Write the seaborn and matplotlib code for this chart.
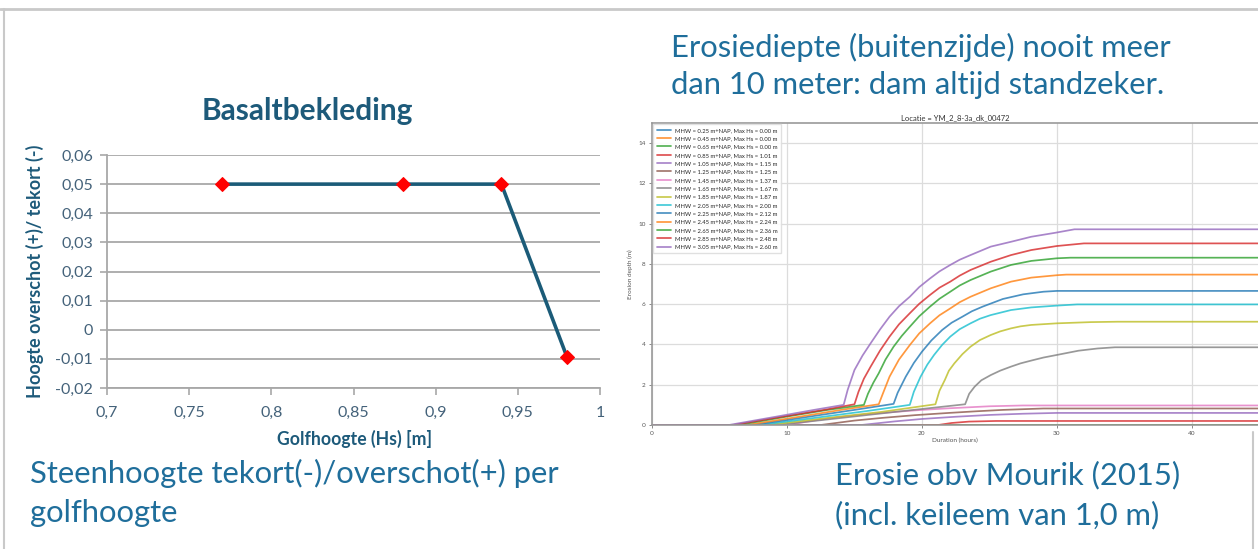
import matplotlib
matplotlib.use("Agg")
import matplotlib.pyplot as plt
from matplotlib.lines import Line2D
import seaborn as sns
import pandas as pd

# ---------------- Basalt revetment: stone height deficit / surplus ----------------
wave_height = [0.77, 0.88, 0.94, 0.98]
height_margin = [0.05, 0.05, 0.05, -0.0095]
x_ticks = [0.70, 0.75, 0.80, 0.85, 0.90, 0.95, 1.00]
x_tick_labels = ["0,7", "0,75", "0,8", "0,85", "0,9", "0,95", "1"]
y_ticks = [-0.02, -0.01, 0.00, 0.01, 0.02, 0.03, 0.04, 0.05, 0.06]
y_tick_labels = ["-0,02", "-0,01", "0", "0,01", "0,02", "0,03", "0,04", "0,05", "0,06"]

# ---------------- Erosion depth vs storm duration (Mourik 2015) ----------------
mhw_levels = [0.25, 0.45, 0.65, 0.85, 1.05, 1.25, 1.45, 1.65, 1.85, 2.05, 2.25, 2.45, 2.65, 2.85, 3.05]
max_hs = [0.00, 0.00, 0.00, 1.01, 1.15, 1.25, 1.37, 1.67, 1.87, 2.00, 2.12, 2.24, 2.36, 2.48, 2.60]

hours_025 = [0, 48]
depth_025 = [0, 0]
hours_045 = [0, 48]
depth_045 = [0, 0]
hours_065 = [0, 48]
depth_065 = [0, 0]
hours_085 = [0, 21.2, 22.2, 23.5, 25.5, 48]
depth_085 = [0, 0, 0.10, 0.17, 0.20, 0.20]
hours_105 = [0, 15.5, 18.0, 20.0, 22.5, 25.0, 27.5, 30.0, 48]
depth_105 = [0, 0, 0.18, 0.30, 0.41, 0.50, 0.56, 0.60, 0.60]
hours_125 = [0, 12.5, 15.0, 17.0, 19.5, 22.0, 24.0, 26.0, 29.0, 48]
depth_125 = [0, 0, 0.22, 0.35, 0.49, 0.60, 0.68, 0.75, 0.82, 0.82]
hours_145 = [0, 10.0, 12.0, 14.0, 16.0, 18.0, 20.0, 22.0, 25.0, 27.5, 48]
depth_145 = [0, 0, 0.22, 0.40, 0.54, 0.65, 0.75, 0.83, 0.93, 0.97, 0.97]
hours_165 = [0, 9.3, 14.0, 18.0, 23.2, 23.5, 23.9, 24.4, 25.1, 25.8, 26.6, 27.3, 28.1, 29.0, 30.0, 31.6, 33.0, 34.3, 48]
depth_165 = [0, 0, 0.35, 0.65, 1.03, 1.55, 1.90, 2.22, 2.48, 2.70, 2.90, 3.06, 3.20, 3.35, 3.48, 3.69, 3.80, 3.86, 3.86]
hours_185 = [0, 8.6, 13.0, 17.0, 21.0, 21.3, 21.7, 22.0, 22.4, 23.0, 23.6, 24.3, 25.1, 25.8, 26.6, 27.3, 28.1, 30.0, 32.5, 34.5, 48]
depth_185 = [0, 0, 0.35, 0.65, 1.03, 1.70, 2.24, 2.70, 3.06, 3.52, 3.89, 4.22, 4.47, 4.65, 4.80, 4.90, 4.97, 5.05, 5.11, 5.13, 5.13]
hours_205 = [0, 8.0, 12.0, 16.0, 19.1, 19.4, 19.9, 20.4, 20.9, 21.5, 22.1, 22.8, 23.6, 24.3, 25.1, 26.6, 28.1, 30.0, 31.5, 48]
depth_205 = [0, 0, 0.35, 0.70, 1.00, 1.65, 2.40, 3.00, 3.48, 3.98, 4.39, 4.76, 5.05, 5.28, 5.46, 5.71, 5.84, 5.93, 5.99, 5.99]
hours_225 = [0, 7.5, 11.5, 15.0, 17.9, 18.2, 18.8, 19.4, 20.0, 20.7, 21.5, 22.2, 23.0, 23.7, 24.5, 26.0, 27.5, 29.0, 30.0, 48]
depth_225 = [0, 0, 0.40, 0.75, 1.05, 1.60, 2.40, 3.08, 3.64, 4.20, 4.72, 5.08, 5.38, 5.65, 5.88, 6.26, 6.49, 6.62, 6.66, 6.66]
hours_245 = [0, 7.0, 11.0, 14.0, 16.8, 17.1, 17.6, 18.3, 19.1, 19.8, 20.6, 21.3, 22.1, 22.8, 23.6, 25.1, 26.6, 28.1, 30.0, 30.7, 48]
depth_245 = [0, 0, 0.42, 0.75, 1.03, 1.55, 2.40, 3.25, 3.97, 4.55, 5.05, 5.45, 5.79, 6.10, 6.37, 6.79, 7.12, 7.32, 7.44, 7.47, 7.47]
hours_265 = [0, 6.4, 10.0, 13.0, 15.7, 16.0, 16.4, 16.8, 17.3, 17.9, 18.5, 19.1, 19.8, 20.6, 21.3, 22.1, 22.8, 23.6, 25.1, 26.6, 28.1, 30.0, 31.0, 48]
depth_265 = [0, 0, 0.42, 0.75, 1.00, 1.55, 2.10, 2.57, 3.25, 3.89, 4.42, 4.88, 5.40, 5.88, 6.27, 6.62, 6.93, 7.20, 7.62, 7.95, 8.15, 8.28, 8.31, 8.31]
hours_285 = [0, 6.0, 10.0, 13.0, 15.0, 15.3, 15.7, 16.2, 16.9, 17.6, 18.3, 19.1, 19.8, 20.6, 21.3, 22.1, 22.8, 23.6, 25.1, 26.6, 28.1, 30.0, 32.0, 48]
depth_285 = [0, 0, 0.45, 0.78, 1.03, 1.65, 2.30, 2.90, 3.70, 4.39, 5.00, 5.55, 6.02, 6.46, 6.82, 7.12, 7.42, 7.70, 8.11, 8.44, 8.69, 8.89, 9.02, 9.02]
hours_305 = [0, 5.7, 9.5, 12.0, 14.2, 14.5, 15.0, 15.6, 16.2, 16.9, 17.6, 18.3, 19.1, 19.8, 20.6, 21.3, 22.1, 22.8, 23.6, 25.1, 26.6, 28.1, 29.9, 31.3, 48]
depth_305 = [0, 0, 0.45, 0.75, 1.00, 1.75, 2.73, 3.45, 4.06, 4.75, 5.38, 5.90, 6.37, 6.85, 7.28, 7.63, 7.95, 8.21, 8.44, 8.86, 9.10, 9.35, 9.55, 9.72, 9.72]

hours_all = [hours_025, hours_045, hours_065, hours_085, hours_105, hours_125, hours_145, hours_165,
             hours_185, hours_205, hours_225, hours_245, hours_265, hours_285, hours_305]
depth_all = [depth_025, depth_045, depth_065, depth_085, depth_105, depth_125, depth_145, depth_165,
             depth_185, depth_205, depth_225, depth_245, depth_265, depth_285, depth_305]

sns.set_theme(style="white")
plt.rcParams["font.family"] = ["Lato", "DejaVu Sans"]

W, H = 1258, 549
fig = plt.figure(figsize=(W / 100, H / 100), dpi=100)
fig.patch.set_facecolor("white")

def fx(px):
    return px / W

def fy(py):
    return 1 - py / H

# slide frame
border = "#c9c9c9"
fig.add_artist(Line2D([0, 1], [fy(9), fy(9)], color=border, lw=2, transform=fig.transFigure))
fig.add_artist(Line2D([fx(4), fx(4)], [fy(9), 0], color=border, lw=1.5, transform=fig.transFigure))
fig.add_artist(Line2D([fx(1253), fx(1253)], [fy(432), 0], color=border, lw=1.5, transform=fig.transFigure))

# ---------------- left chart ----------------
dark_blue = "#1d5a7a"
tick_col = "#44627a"
grid_col = "#a8a8a8"
axL = fig.add_axes([fx(107), fy(388), fx(600) - fx(107), fy(155) - fy(388)])
axL.set_facecolor("white")
sns.lineplot(x=wave_height, y=height_margin, ax=axL, color="#1b5b78", lw=2.6,
             marker="D", markersize=7.5, markerfacecolor="#ff0000", markeredgecolor="#ff0000",
             zorder=3)
axL.set_xlim(0.70, 1.00)
axL.set_ylim(-0.02, 0.06)
axL.set_xticks(x_ticks)
axL.set_xticklabels(x_tick_labels)
axL.set_yticks(y_ticks)
axL.set_yticklabels(y_tick_labels)
axL.yaxis.grid(True, color=grid_col, lw=1.3)
axL.xaxis.grid(False)
for s in ["top", "right"]:
    axL.spines[s].set_visible(False)
for s in ["left", "bottom"]:
    axL.spines[s].set_color(grid_col)
    axL.spines[s].set_linewidth(1.3)
axL.tick_params(axis="both", which="major", length=5, width=1.2, color=grid_col,
                labelsize=11.5, labelcolor=tick_col, direction="out", pad=5)
axL.tick_params(axis="x", bottom=True, pad=8)
axL.tick_params(axis="y", left=True)
axL.set_ylabel("Hoogte overschot (+)/ tekort (-)", fontsize=13, fontweight="bold", color=dark_blue)
axL.yaxis.set_label_coords(-0.128, 0.5)
axL.set_xlabel("Golfhoogte (Hs) [m]", fontsize=12.7, fontweight="bold", color=dark_blue)
axL.xaxis.set_label_coords(0.503, -0.18)

fig.text(fx(307), fy(111), "Basaltbekleding", ha="center", va="center",
         fontsize=21.5, fontweight="bold", color=dark_blue)

# ---------------- right chart ----------------
frames = []
for lvl, hs, t, d in zip(mhw_levels, max_hs, hours_all, depth_all):
    label = f"MHW = {lvl:.2f} m+NAP, Max Hs = {hs:.2f} m"
    frames.append(pd.DataFrame({"series": label, "hours": t, "depth": d}))
erosion = pd.concat(frames, ignore_index=True)
order = list(dict.fromkeys(erosion["series"]))
palette = [sns.color_palette("tab10")[i % 10] for i in range(len(order))]

axR = fig.add_axes([fx(652), fy(425), 1 - fx(652), fy(123) - fy(425)])
axR.set_facecolor("white")
sns.lineplot(data=erosion, x="hours", y="depth", hue="series", hue_order=order,
             palette=palette, estimator=None, sort=False, lw=1.25, alpha=0.8, ax=axR)
axR.set_xlim(0, 44.9)
axR.set_ylim(0, 15)
axR.set_xticks([0, 10, 20, 30, 40])
axR.set_yticks([0, 2, 4, 6, 8, 10, 12, 14])
axR.grid(True, color="#dcdcdc", lw=0.9)
for s in ["left", "top", "bottom"]:
    axR.spines[s].set_color("#9a9a9a")
    axR.spines[s].set_linewidth(1.2)
axR.spines["right"].set_visible(False)
axR.tick_params(axis="both", labelsize=4.6, labelcolor="#555555", length=2.5, width=0.6,
                color="#777777", pad=2, left=True, bottom=True)
axR.set_xlabel("Duration (hours)", fontsize=4.6, color="#555555", labelpad=1)
axR.set_ylabel("Erosion depth (m)", fontsize=4.6, color="#555555", labelpad=4)
axR.set_title("Locatie = YM_2_8-3a_dk_00472", fontsize=5.5, color="#333333", pad=2)
sns.move_legend(axR, "upper left", title=None, fontsize=4.2, frameon=True,
                labelspacing=0.56, handlelength=2.4, borderpad=0.6, borderaxespad=0.2,
                fancybox=False, edgecolor="#dddddd", framealpha=0.9)

# ---------------- slide captions ----------------
cap_col = "#1f6e9b"
cap_size = 22.3
fig.text(fx(671), fy(47), "Erosiediepte (buitenzijde) nooit meer", ha="left", va="center",
         fontsize=cap_size, color=cap_col)
fig.text(fx(671), fy(85), "dan 10 meter: dam altijd standzeker.", ha="left", va="center",
         fontsize=cap_size, color=cap_col)
fig.text(fx(30), fy(473), "Steenhoogte tekort(-)/overschot(+) per", ha="left", va="center",
         fontsize=cap_size, color=cap_col)
fig.text(fx(30), fy(513), "golfhoogte", ha="left", va="center", fontsize=cap_size, color=cap_col)
fig.text(fx(835), fy(475), "Erosie obv Mourik (2015)", ha="left", va="center",
         fontsize=cap_size, color=cap_col)
fig.text(fx(835), fy(515), "(incl. keileem van 1,0 m)", ha="left", va="center",
         fontsize=cap_size, color=cap_col)

fig.savefig("out.png", dpi=100, facecolor="white")
